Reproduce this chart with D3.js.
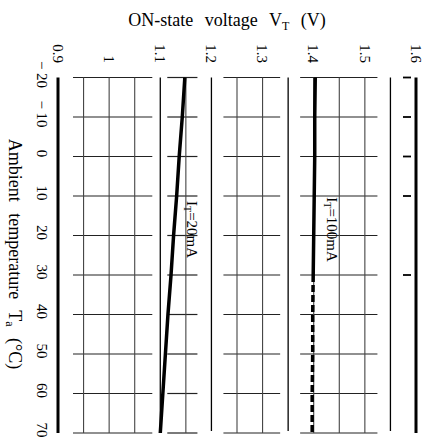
<!DOCTYPE html>
<html lang="en">
<head>
<meta charset="utf-8">
<script src="https://d3js.org/d3.v7.min.js"></script>
<style>
body { margin: 0; background: #fff; }
svg text { font-family: "Liberation Serif", "DejaVu Serif", serif; fill: #000; }
</style>
</head>
<body>
<div id="chart"></div>
<script>
// data
var temps = [-20, -10, 0, 10, 20, 30, 40, 50, 60, 70];
var vt20mA = [1.148, 1.143, 1.137, 1.132, 1.126, 1.121, 1.115, 1.110, 1.105, 1.100];
var vt100mA = [1.403, 1.402, 1.402, 1.401, 1.400, 1.399, 1.398, 1.398, 1.397, 1.397];
var voltTicks = [0.9, 1, 1.1, 1.2, 1.3, 1.4, 1.5, 1.6];
var tempTicks = [-20, -10, 0, 10, 20, 30, 40, 50, 60, 70];

// grid blocks of the printed sheet
var blocks = [
  {from: 0.9, to: 1.1, lines: [0.95, 1.0, 1.05], padL: 15, padR: 8},
  {from: 1.1, to: 1.2, lines: [1.15], padL: 7, padR: 14},
  {from: 1.2, to: 1.35, lines: [1.25, 1.3], padL: 12, padR: 8},
  {from: 1.35, to: 1.55, lines: [1.4, 1.45, 1.5], padL: 12, padR: 13}
];
var separators = [1.1, 1.2, 1.35, 1.55];
var edgeTicks = [-20, -10, 0, 10, 30];

var width = 427, height = 442;

var x = d3.scaleLinear().domain([0.9, 1.6]).range([58, 416]);
var y = d3.scaleLinear().domain([-20, 70]).range([77.5, 433]);

var svg = d3.select("#chart").append("svg")
  .attr("width", width)
  .attr("height", height);

var grid = svg.append("g");

blocks.forEach(function(b) {
  var x0 = x(b.from) + b.padL, x1 = x(b.to) - b.padR;
  grid.selectAll(null)
    .data(tempTicks)
    .enter().append("line")
    .attr("x1", x0).attr("x2", x1)
    .attr("y1", function(d) { return y(d); })
    .attr("y2", function(d) { return y(d); })
    .attr("stroke", "#222")
    .attr("stroke-width", 1.2);
  grid.selectAll(null)
    .data(b.lines)
    .enter().append("line")
    .attr("x1", function(d) { return x(d); })
    .attr("x2", function(d) { return x(d); })
    .attr("y1", y(-20)).attr("y2", y(70))
    .attr("stroke", "#444")
    .attr("stroke-width", 1.1);
});

// separators
grid.selectAll(null)
  .data(separators)
  .enter().append("line")
  .attr("x1", function(d) { return x(d); })
  .attr("x2", function(d) { return x(d); })
  .attr("y1", y(-20)).attr("y2", y(69.5))
  .attr("stroke", "#000")
  .attr("stroke-width", 1.3);

// short marks next to the right edge
grid.selectAll(null)
  .data(edgeTicks)
  .enter().append("line")
  .attr("x1", x(1.6) - 13).attr("x2", x(1.6) - 5)
  .attr("y1", function(d) { return y(d); })
  .attr("y2", function(d) { return y(d); })
  .attr("stroke", "#000")
  .attr("stroke-width", 1.8);

// heavy frame lines
[0.9, 1.6].forEach(function(v) {
  svg.append("line")
    .attr("x1", x(v)).attr("x2", x(v))
    .attr("y1", y(-20)).attr("y2", y(70))
    .attr("stroke", "#000")
    .attr("stroke-width", 3);
});

// curves
var line = d3.line()
  .x(function(d) { return x(d[1]); })
  .y(function(d) { return y(d[0]); });

var pts20 = temps.map(function(t, i) { return [t, vt20mA[i]]; });
var pts100 = temps.map(function(t, i) { return [t, vt100mA[i]]; });

svg.append("path")
  .attr("d", line(pts20))
  .attr("fill", "none")
  .attr("stroke", "#000")
  .attr("stroke-width", 3.5);

svg.append("path")
  .attr("d", line(pts100.filter(function(d) { return d[0] <= 30; })))
  .attr("fill", "none")
  .attr("stroke", "#000")
  .attr("stroke-width", 3.5);

svg.append("path")
  .attr("d", line(pts100.filter(function(d) { return d[0] >= 30; })))
  .attr("fill", "none")
  .attr("stroke", "#000")
  .attr("stroke-width", 3.5)
  .attr("stroke-dasharray", "7,3");

// curve labels (rotated with the sheet)
function curveLabel(cx, cy, txt) {
  var t = svg.append("text")
    .attr("transform", "translate(" + cx + "," + cy + ") rotate(90)")
    .attr("text-anchor", "middle")
    .attr("dy", "0.35em")
    .style("font-size", "15px");
  t.append("tspan").text("I");
  t.append("tspan").attr("dy", 3).style("font-size", "10px").text("T");
  t.append("tspan").attr("dy", -3).text(txt);
}
curveLabel(x(1.163), y(18.5), "=20mA");
curveLabel(x(1.436), y(18.5), "=100mA");

// voltage tick labels (top)
svg.selectAll(".vt")
  .data(voltTicks)
  .enter().append("text")
  .attr("class", "vt")
  .attr("transform", function(d) { return "translate(" + x(d) + ",63) rotate(90)"; })
  .attr("text-anchor", "end")
  .attr("dy", "0.35em")
  .style("font-size", "15px")
  .text(function(d) { return d3.format("")(d); });

// temperature tick labels (left)
svg.selectAll(".tt")
  .data(tempTicks)
  .enter().append("text")
  .attr("class", "tt")
  .attr("transform", function(d) { return "translate(42," + (y(d) - 3) + ") rotate(90)"; })
  .attr("text-anchor", "middle")
  .attr("dy", "0.35em")
  .style("font-size", "15px")
  .text(function(d) { return d < 0 ? "\u2212 " + Math.abs(d) : d; });

// axis titles
var titleTop = svg.append("text")
  .attr("x", 227).attr("y", 26)
  .attr("text-anchor", "middle")
  .style("font-size", "18px")
  .style("word-spacing", "7px");
titleTop.append("tspan").text("ON-state voltage V");
titleTop.append("tspan").attr("dy", 4).style("font-size", "12px").text("T");
titleTop.append("tspan").attr("dy", -4).text(" (V)");

var titleLeft = svg.append("text")
  .attr("transform", "translate(15,254) rotate(90)")
  .attr("text-anchor", "middle")
  .attr("dy", "0.35em")
  .style("font-size", "18px")
  .style("word-spacing", "7px");
titleLeft.append("tspan").text("Ambient temperature T");
titleLeft.append("tspan").attr("dy", 3).style("font-size", "12px").text("a");
titleLeft.append("tspan").attr("dy", -3).text(" (\u00b0C)");
</script>
</body>
</html>
